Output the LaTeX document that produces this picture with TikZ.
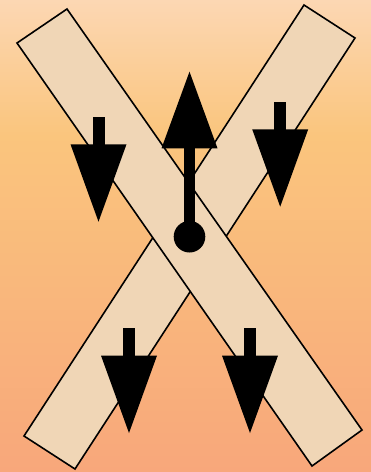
\documentclass[tikz,border=0pt]{standalone}
\definecolor{bgtop}{HTML}{FCD7B3}
\definecolor{bgmid}{HTML}{FAC57D}
\definecolor{bgbot}{HTML}{F8A77B}
\definecolor{barcol}{HTML}{F0D6B6}
\tikzset{
  barshape/.style={fill=barcol, draw=black, line width=1.6pt, line join=miter},
  downarr/.pic={
    \fill[black] (-6,0) rectangle (6,28.5);
    \fill[black] (-28,27.6) -- (28,27.6) -- (0,105) -- cycle;
  },
}
\begin{document}
\begin{tikzpicture}[x=1pt,y=-1pt]
\useasboundingbox (0,0) rectangle (371,472);
% background
\shade[top color=bgtop, bottom color=bgmid] (0,0) rectangle (371,135.5);
\shade[top color=bgmid, bottom color=bgbot] (0,135) rectangle (371,472);
% bars
\draw[barshape] (304,5) -- (355,38) -- (75,469) -- (24,436) -- cycle;
\draw[barshape] (17,43) -- (67,9) -- (362,430) -- (312,466) -- cycle;
% down arrows
\pic (arrA) at (98.5,116.7) {downarr};
\pic (arrB) at (280.2,101.7) {downarr};
\pic (arrC) at (129,328) {downarr};
\pic (arrD) at (250,328) {downarr};
% up arrow with ball
\node[circle, fill=black, minimum size=31.6pt, inner sep=0pt] (ball) at (189.5,236.7) {};
\coordinate (upbase) at (189.5,148.3);
\coordinate (uptip) at (189.5,71.7);
\fill[black] ([xshift=-5.8pt]ball.center) rectangle ([xshift=5.8pt,yshift=1pt]upbase);
\fill[black] ([xshift=-28pt]upbase) -- ([xshift=28pt]upbase) -- (uptip) -- cycle;
\end{tikzpicture}
\end{document}
